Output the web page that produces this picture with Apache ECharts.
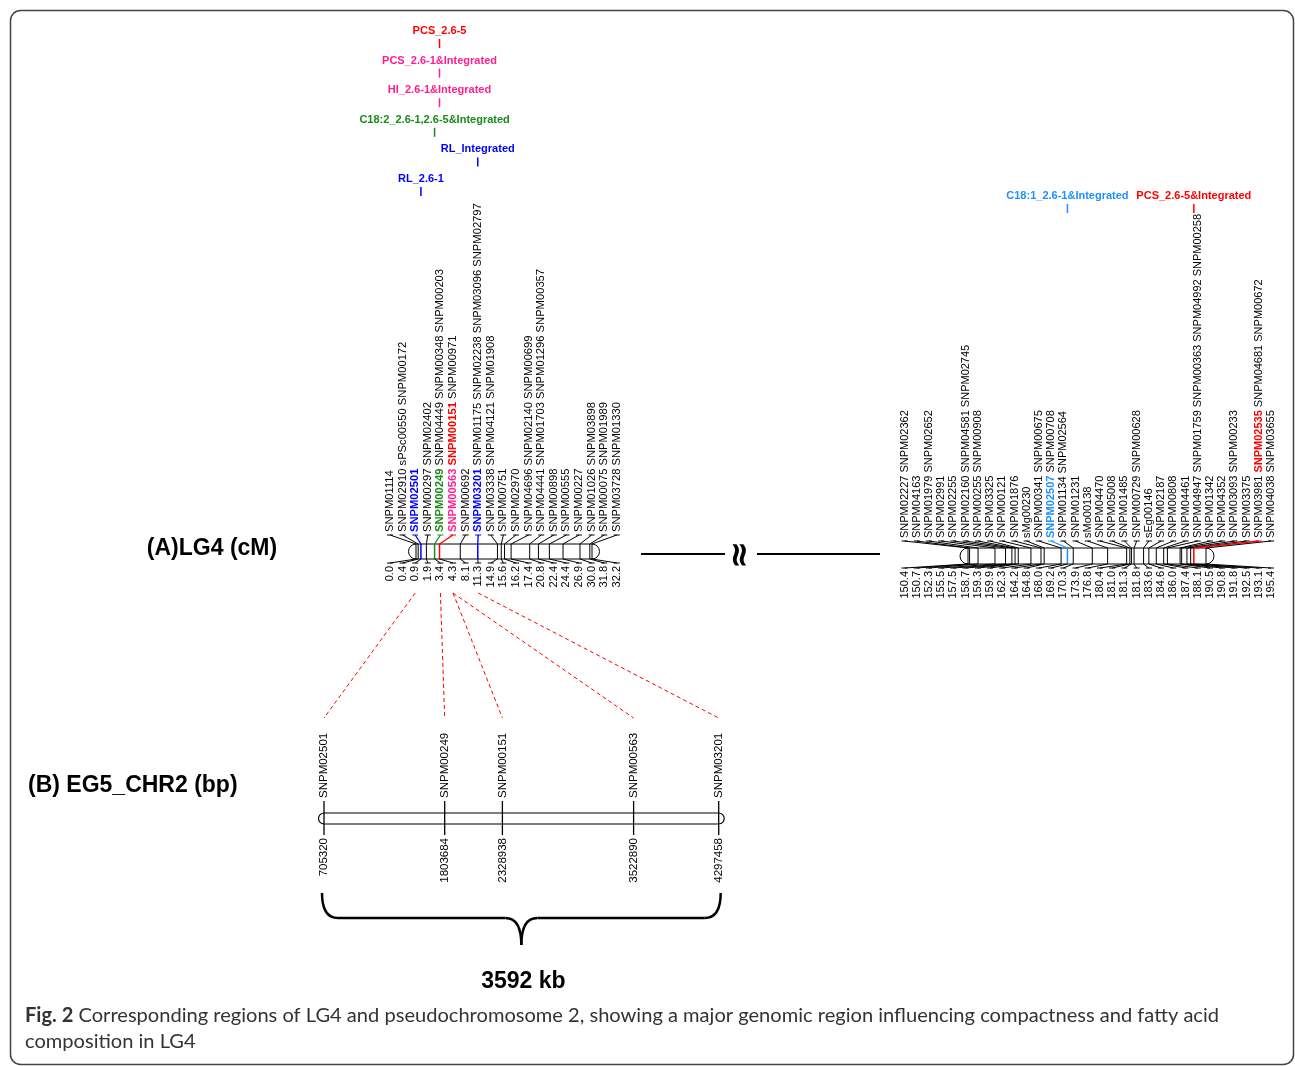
<!DOCTYPE html>
<html><head><meta charset="utf-8">
<script src="https://cdn.jsdelivr.net/npm/echarts@6/dist/echarts.min.js"></script>
<style>html,body{margin:0;padding:0;background:#fff}#chart{width:1295px;height:1066px}</style>
</head><body><div id="chart"></div>
<script>
// ================= DATA =================
const lgLeftPositions = [0.0,0.4,0.9,1.9,3.4,4.3,8.1,11.3,14.9,15.6,16.2,17.4,20.8,22.4,24.4,26.9,30.0,31.8,32.2];
const lgLeftMarkers = [
  ['SNPM01114'],
  ['SNPM02910','sPSc00550','SNPM00172'],
  ['SNPM02501'],
  ['SNPM00297','SNPM02402'],
  ['SNPM00249','SNPM04449','SNPM00348','SNPM00203'],
  ['SNPM00563','SNPM00151','SNPM00971'],
  ['SNPM00692'],
  ['SNPM03201','SNPM01175','SNPM02238','SNPM03096','SNPM02797'],
  ['SNPM03338','SNPM04121','SNPM01908'],
  ['SNPM00751'],
  ['SNPM02970'],
  ['SNPM04696','SNPM02140','SNPM00699'],
  ['SNPM04441','SNPM01703','SNPM01296','SNPM00357'],
  ['SNPM00898'],
  ['SNPM00555'],
  ['SNPM00227'],
  ['SNPM01026','SNPM03898'],
  ['SNPM00075','SNPM01989'],
  ['SNPM03728','SNPM01330']
];
const lgRightPositions = [150.4,150.7,152.3,155.5,157.5,158.7,159.3,159.9,162.3,164.2,164.8,168.0,169.2,170.3,173.9,176.8,180.4,181.0,181.3,181.8,183.6,184.6,186.0,187.4,188.1,190.5,190.8,191.8,192.5,193.1,195.4];
const lgRightMarkers = [
  ['SNPM02227','SNPM02362'],
  ['SNPM04163'],
  ['SNPM01979','SNPM02652'],
  ['SNPM02991'],
  ['SNPM02255'],
  ['SNPM02160','SNPM04581','SNPM02745'],
  ['SNPM00255','SNPM00908'],
  ['SNPM03325'],
  ['SNPM00121'],
  ['SNPM01876'],
  ['sMg00230'],
  ['SNPM00341','SNPM00675'],
  ['SNPM02507','SNPM00708'],
  ['SNPM01134','SNPM02564'],
  ['SNPM01231'],
  ['sMo00138'],
  ['SNPM04470'],
  ['SNPM05008'],
  ['SNPM01485'],
  ['SNPM00729','SNPM00628'],
  ['sEg00146'],
  ['SNPM02187'],
  ['SNPM00808'],
  ['SNPM04461'],
  ['SNPM04947','SNPM01759','SNPM00363','SNPM04992','SNPM00258'],
  ['SNPM01342'],
  ['SNPM04352'],
  ['SNPM03093','SNPM00233'],
  ['SNPM03375'],
  ['SNPM03981','SNPM02535','SNPM04681','SNPM00672'],
  ['SNPM04038','SNPM03655']
];
const qtlLeftNames = ['PCS_2.6-5','PCS_2.6-1&Integrated','HI_2.6-1&Integrated','C18:2_2.6-1,2.6-5&Integrated','RL_Integrated','RL_2.6-1'];
const qtlLeftPositions = [4.3,4.3,4.3,3.4,11.3,0.9];
const qtlRightNames = ['C18:1_2.6-1&Integrated','PCS_2.6-5&Integrated'];
const qtlRightPositions = [169.2,193.1];
const physMarkers = ['SNPM02501','SNPM00249','SNPM00151','SNPM00563','SNPM03201'];
const physPositions = [705320,1803684,2328938,3522890,4297458];
const titleA = '(A)LG4 (cM)';
const titleB = '(B) EG5_CHR2 (bp)';
const captionBold = 'Fig. 2';
const captionLine1 = 'Corresponding regions of LG4 and pseudochromosome 2, showing a major genomic region influencing compactness and fatty acid';
const captionLine2 = 'composition in LG4';

// ================= STYLE =================
const FONT = '"Liberation Sans", Arial, Helvetica, sans-serif';
const CAPFONT = 'Lato, "Noto Sans", sans-serif';
const COLORS = {blue:'#0000ff', green:'#1a8a1a', pink:'#ff1f8f', red:'#ff0000', sky:'#1e90ff'};
const markerColor = {SNPM02501:'blue', SNPM03201:'blue', SNPM00249:'green', SNPM00563:'pink', SNPM00151:'red', SNPM02507:'sky', SNPM02535:'red'};
const qtlLeftColors = ['red','pink','pink','green','blue','blue'];
const qtlRightColors = ['sky','red'];

const chart = echarts.init(document.getElementById('chart'));
const hide = {show:false};
chart.setOption({
  animation:false,
  backgroundColor:'#fff',
  grid:[
    {left:416, width:176, top:544, height:15, outerBoundsMode:'none'},
    {left:383.7, width:239.4, top:500, height:10, outerBoundsMode:'none'},
    {left:968, width:238, top:548, height:16, outerBoundsMode:'none'},
    {left:898.4, width:378.8, top:500, height:10, outerBoundsMode:'none'},
    {left:324, width:394.7, top:813, height:11, outerBoundsMode:'none'}
  ],
  xAxis:[
    Object.assign({gridIndex:0, type:'value', min:lgLeftPositions[0], max:lgLeftPositions[lgLeftPositions.length-1]}, hide),
    Object.assign({gridIndex:1, type:'category', data:lgLeftPositions.map(v=>v.toFixed(1))}, hide),
    Object.assign({gridIndex:2, type:'value', min:lgRightPositions[0], max:lgRightPositions[lgRightPositions.length-1]}, hide),
    Object.assign({gridIndex:3, type:'category', data:lgRightPositions.map(v=>v.toFixed(1))}, hide),
    Object.assign({gridIndex:4, type:'value', min:physPositions[0], max:physPositions[physPositions.length-1]}, hide)
  ],
  yAxis:[0,1,2,3,4].map(i=>Object.assign({gridIndex:i, type:'value', min:0, max:1}, hide)),
  series:[]
});

const px = (axis, v) => chart.convertToPixel({xAxisIndex:axis}, v);
const els = [];
const line = (x1,y1,x2,y2,stroke,w,dash) => els.push({type:'line', silent:true, shape:{x1,y1,x2,y2}, style:{stroke:stroke||'#000', lineWidth:w||1, lineDash:dash||null}});
const richFor = fs => { const r = {}; Object.keys(COLORS).forEach(k => r[k] = {fill:COLORS[k], fontWeight:'bold', fontSize:fs, fontFamily:FONT}); return r; };
const text = (x,y,t,o) => els.push({type:'text', silent:true, x, y, rotation:o.rot||0, style:Object.assign({text:t, fontFamily:FONT, fontSize:11, fill:'#000', align:'center', verticalAlign:'middle'}, o.style||{})});

// frame
els.push({type:'rect', silent:true, shape:{x:10.5, y:10.5, width:1283, height:1054, r:10}, style:{fill:'none', stroke:'#444', lineWidth:1.5}});

function chromosome(c){
  const P = c.positions, M = c.markers;
  const X = v => px(c.posAxis, v), C = i => px(c.colAxis, i);
  const x0 = X(P[0]) - c.r, x1 = X(P[P.length-1]) + c.r;
  const rich = richFor(c.fs);
  els.push({type:'rect', silent:true, shape:{x:x0, y:c.barTop, width:x1-x0, height:c.barBottom-c.barTop, r:c.r}, style:{fill:'#fff', stroke:'#000', lineWidth:1}});
  P.forEach((p,i)=>{
    const cx = C(i), xp = X(p);
    let col = null;
    M[i].forEach(m => { if (markerColor[m]) col = COLORS[markerColor[m]]; });
    const s = col || '#000';
    line(cx-3, c.tickY, cx+3, c.tickY, s);
    line(cx, c.tickY, xp, c.barTop, s, col?1.3:1);
    line(xp, c.barTop, xp, c.barBottom, s, col?1.5:1);
    line(xp, c.barBottom, cx, c.tickY2, '#000');
    line(cx-3, c.tickY2, cx+3, c.tickY2, '#000');
    const t = M[i].map(m => markerColor[m] ? '{'+markerColor[m]+'|'+m+'}' : m).join(' ');
    text(cx, c.labelBottom, t, {rot:Math.PI/2, style:{align:'left', fontSize:c.fs, rich}});
    text(cx, c.labelTop2, p.toFixed(1), {rot:Math.PI/2, style:{align:'right', fontSize:11}});
  });
}
chromosome({positions:lgLeftPositions, markers:lgLeftMarkers, posAxis:0, colAxis:1, r:7.5, fs:11.2,
  labelBottom:532, tickY:535, barTop:544, barBottom:559, tickY2:563, labelTop2:566});
chromosome({positions:lgRightPositions, markers:lgRightMarkers, posAxis:2, colAxis:3, r:8, fs:11,
  labelBottom:538, tickY:541, barTop:548, barBottom:564, tickY2:568, labelTop2:571});

// QTL labels
qtlLeftNames.forEach((n,i)=>{
  const x = px(0, qtlLeftPositions[i]), y = 31 + i*29.6, c = COLORS[qtlLeftColors[i]];
  text(x, y, n, {style:{fill:c, fontWeight:'bold'}});
  line(x, y+8, x, y+17, c, 1.5);
});
qtlRightNames.forEach((n,i)=>{
  const x = px(2, qtlRightPositions[i]), y = 196, c = COLORS[qtlRightColors[i]];
  text(x, y, n, {style:{fill:c, fontWeight:'bold'}});
  line(x, y+8, x, y+17, c, 1.5);
});

// break
line(641, 554, 725, 554, '#000', 2);
line(757, 554, 880, 554, '#000', 2);
text(741, 555, '\u2248', {rot:Math.PI/2, style:{fontSize:34, fontWeight:'bold', fontFamily:'"DejaVu Sans", sans-serif'}});

// titles
text(212, 549, titleA, {style:{fontSize:23, fontWeight:'bold', align:'center'}});
text(28, 786, titleB, {style:{fontSize:23, fontWeight:'bold', align:'left'}});

// physical chromosome B
{
  const X = v => px(4, v);
  const x0 = X(physPositions[0]) - 5.5, x1 = X(physPositions[physPositions.length-1]) + 5.5;
  els.push({type:'rect', silent:true, shape:{x:x0, y:813, width:x1-x0, height:11, r:5.5}, style:{fill:'#fff', stroke:'#000', lineWidth:1.2}});
  physPositions.forEach((p,i)=>{
    const x = X(p);
    line(x, 801, x, 835, '#000', 1.3);
    text(x, 798, physMarkers[i], {rot:Math.PI/2, style:{align:'left', fontSize:11.5}});
    text(x, 838, String(p), {rot:Math.PI/2, style:{align:'right', fontSize:11.5}});
    // dashed link to the genetic map column
    const ci = lgLeftMarkers.findIndex(arr => arr.includes(physMarkers[i]));
    line(px(1, ci), 593, x, 718, '#ff0000', 1, [4,3]);
  });
  // brace
  const a = X(physPositions[0]) - 2, b = X(physPositions[physPositions.length-1]) + 2, m = (a+b)/2;
  const st = {fill:'none', stroke:'#000', lineWidth:2.5};
  els.push({type:'bezierCurve', silent:true, shape:{x1:a, y1:893, cpx1:a, cpy1:918, x2:a+16, y2:918}, style:st});
  els.push({type:'line', silent:true, shape:{x1:a+16, y1:918, x2:m-16, y2:918}, style:st});
  els.push({type:'bezierCurve', silent:true, shape:{x1:m-16, y1:918, cpx1:m, cpy1:918, x2:m, y2:945}, style:st});
  els.push({type:'bezierCurve', silent:true, shape:{x1:m, y1:945, cpx1:m, cpy1:918, x2:m+16, y2:918}, style:st});
  els.push({type:'line', silent:true, shape:{x1:m+16, y1:918, x2:b-16, y2:918}, style:st});
  els.push({type:'bezierCurve', silent:true, shape:{x1:b-16, y1:918, cpx1:b, cpy1:918, x2:b, y2:893}, style:st});
  const kb = Math.round((physPositions[physPositions.length-1]-physPositions[0])/1000) + ' kb';
  text(m+2, 982, kb, {style:{fontSize:23, fontWeight:'bold'}});
}

// caption (font size fitted to the line width of the original)
{
  const cv = document.createElement('canvas').getContext('2d');
  cv.font = 'bold 20px ' + CAPFONT;
  const wb = cv.measureText(captionBold + ' ').width;
  cv.font = '20px ' + CAPFONT;
  const wr = cv.measureText(captionLine1).width;
  const fs = 20 * 1195 / (wb + wr);
  els.push({type:'text', silent:true, x:25, y:1016, style:{text:'{b|'+captionBold+'} '+captionLine1, fontFamily:CAPFONT, fontSize:fs, fill:'#333', align:'left', verticalAlign:'middle',
    rich:{b:{fontWeight:'bold', fontFamily:CAPFONT, fontSize:fs, fill:'#333'}}}});
  els.push({type:'text', silent:true, x:25, y:1042, style:{text:captionLine2, fontFamily:CAPFONT, fontSize:fs, fill:'#333', align:'left', verticalAlign:'middle'}});
}

chart.setOption({graphic:{elements:els}});
</script>
</body></html>
